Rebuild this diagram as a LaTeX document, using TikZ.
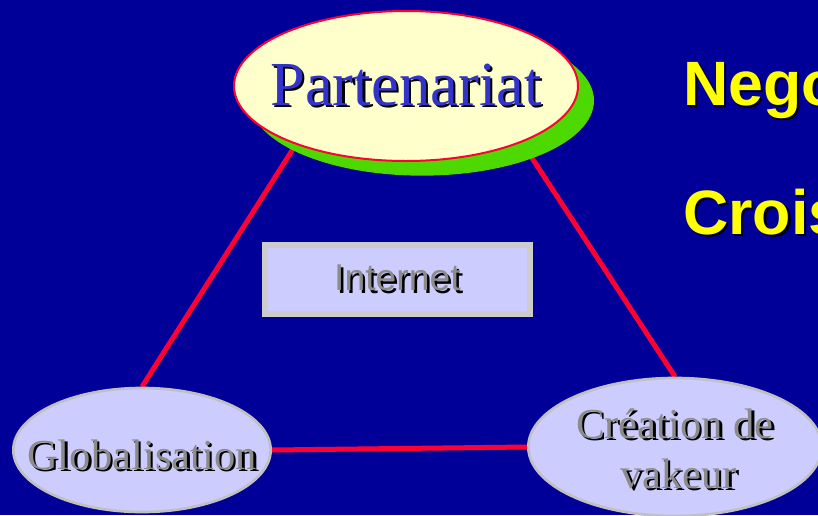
\documentclass[tikz,border=0pt]{standalone}
\usepackage{fontspec}
\setmainfont{Liberation Serif}
\setsansfont{Liberation Sans}
\usepackage{tikz}
\usetikzlibrary{shapes.geometric}
\usetikzlibrary{shadows}

\definecolor{slidebg}{RGB}{0,0,153}
\definecolor{partfill}{RGB}{255,255,204}
\definecolor{partgreen}{RGB}{77,217,0}
\definecolor{linkred}{RGB}{255,0,51}
\definecolor{partblue}{RGB}{51,51,204}
\definecolor{lilac}{RGB}{204,204,255}
\definecolor{rimgray}{RGB}{192,192,192}
\definecolor{boxgray}{RGB}{204,204,204}
\definecolor{txtgray}{RGB}{140,140,140}
\definecolor{hiyellow}{RGB}{255,255,0}

\pgfdeclarelayer{slide}
\pgfdeclarelayer{links}
\pgfsetlayers{slide,links,main}

\newcommand{\shtext}[2]{\makebox[0pt][l]{\hspace*{1.8pt}\raisebox{-1.8pt}{\color{black}#2}}{\color{#1}#2}}

\begin{document}
\begin{tikzpicture}[x=0.75pt,y=-0.75pt,
    link/.style={line width=3.75pt, linkred},
    lilacoval/.style={ellipse, fill=lilac, draw=rimgray, line width=2pt, inner sep=0pt,
                      font=\fontsize{32}{37.5}\selectfont},
    bigword/.style={anchor=base west, inner sep=0pt, font=\sffamily\bfseries\fontsize{47}{56}\selectfont}]
  \useasboundingbox (0,0) rectangle (818,515);
  \clip (0,0) rectangle (818,515);
  \begin{pgfonlayer}{slide}
    \fill[slidebg] (0,0) rectangle (818,515);
  \end{pgfonlayer}

  \coordinate (P) at (406,86);
  \coordinate (G) at (142,450);
  \coordinate (C) at (675,447);
  \coordinate (I) at (397.5,279.5);

  \node[ellipse, fill=partfill, draw=linkred, line width=1.5pt, inner sep=0pt,
        minimum width=258pt, minimum height=112.5pt,
        drop shadow={shadow xshift=12pt, shadow yshift=-11pt, fill=partgreen, opacity=1},
        font=\fontsize{47}{56}\selectfont] (part) at (P)
        {\makebox[0pt]{\shtext{partblue}{Partenariat}}};
  \node[lilacoval, minimum width=193pt, minimum height=93pt] (glob) at (G)
        {\makebox[0pt]{\raisebox{-14.5pt}[0pt][0pt]{\shtext{txtgray}{Globalisation}}}};
  \node[lilacoval, minimum width=220pt, minimum height=103.5pt] (crea) at (C)
        {\makebox[0pt]{\raisebox{6.5pt}[0pt][0pt]{\begin{tabular}[t]{@{}c@{}}\shtext{txtgray}{Création de}\\\hspace*{6pt}\shtext{txtgray}{vakeur}\end{tabular}}}};
  \node[rectangle, fill=lilac, draw=boxgray, line width=4.5pt, inner sep=0pt,
        minimum width=198.75pt, minimum height=51.75pt,
        font=\sffamily\fontsize{28}{34}\selectfont] (net) at (I) {\shtext{txtgray}{Internet}};

  \node[bigword] (nego) at (683,105) {\shtext{hiyellow}{Nego}};
  \node[bigword] (crois) at (683,234) {\shtext{hiyellow}{Crois}};

  % triangle behind the ovals
  \begin{pgfonlayer}{links}
    \draw[link] (part.208) -- (glob.north);
    \draw[link] (part.334) -- (crea.north);
    \draw[link] (glob.east) -- (crea.west);
  \end{pgfonlayer}
\end{tikzpicture}
\end{document}
